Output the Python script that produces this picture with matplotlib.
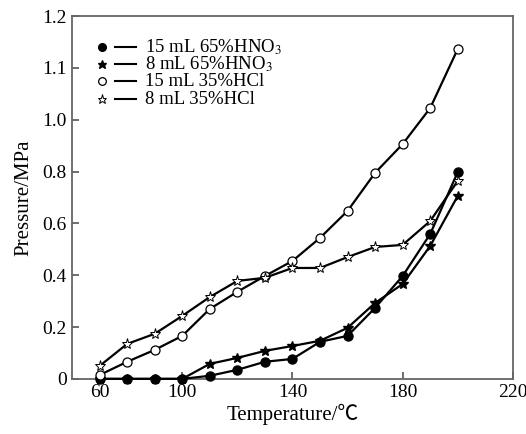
import matplotlib
matplotlib.use("Agg")
import matplotlib.pyplot as plt
from matplotlib.lines import Line2D

plt.rcParams['font.family'] = ['Liberation Serif', 'Noto Sans CJK SC', 'DejaVu Sans']
plt.rcParams['mathtext.fontset'] = 'stix'

# Data (x positions as drawn; y in axis-position units)
temps = [70, 80, 90, 100, 110, 120, 130, 140, 150, 160, 170, 180, 190, 200]
hno3_15 = [0.0, 0.0, 0.0, 0.0, 0.012, 0.035, 0.066, 0.077, 0.143, 0.166, 0.274, 0.397, 0.559, 0.798]
hno3_8 = [0.0, 0.0, 0.0, 0.0, 0.058, 0.081, 0.108, 0.127, 0.147, 0.197, 0.293, 0.366, 0.513, 0.706]
hcl_15 = [0.015, 0.066, 0.112, 0.166, 0.27, 0.336, 0.397, 0.455, 0.544, 0.648, 0.795, 0.906, 1.045, 1.273]
hcl_8 = [0.05, 0.135, 0.174, 0.243, 0.316, 0.378, 0.39, 0.428, 0.428, 0.47, 0.509, 0.517, 0.609, 0.764]

labels = ['15 mL 65%HNO$_3$', '8 mL 65%HNO$_3$', '15 mL 35%HCl', '8 mL 35%HCl']

xtick_pos = [70, 100, 140, 180, 220]
xtick_lab = ['60', '100', '140', '180', '220']
ytick_pos = [0, 0.2, 0.4, 0.6, 0.8, 1.0, 1.2, 1.4]
ytick_lab = ['0', '0.2', '0.4', '0.6', '0.8', '1.0', '1.1', '1.2']

fig = plt.figure(figsize=(5.26, 4.34), dpi=100)
ax = fig.add_axes([0.137, 0.127, 0.838, 0.836])

styles = [
    dict(marker='o', mfc='black', mec='black', ms=6.5),
    dict(marker='*', mfc='black', mec='black', ms=7.5),
    dict(marker='o', mfc='white', mec='black', ms=6.5, mew=0.9),
    dict(marker='*', mfc='white', mec='black', ms=8, mew=0.7),
]
series = [hno3_15, hno3_8, hcl_15, hcl_8]
for ys, st in zip(series, styles):
    ax.plot(temps, ys, color='black', lw=1.6, clip_on=False, zorder=3, **st)

ax.set_xlim(60, 220)
ax.set_ylim(0, 1.4)
ax.set_xticks(xtick_pos)
ax.set_xticklabels(xtick_lab)
ax.set_yticks(ytick_pos)
ax.set_yticklabels(ytick_lab)
ax.tick_params(direction='in', length=5, width=1.2, labelsize=14, color='#555555', pad=4)
for s in ax.spines.values():
    s.set_color('#666666')
    s.set_linewidth(1.3)

ax.set_xlabel('Temperature/℃', fontsize=15, labelpad=2)
ax.set_ylabel('Pressure/MPa', fontsize=15, labelpad=6)

# Legend drawn manually: marker, short line, label
leg_x_marker = 0.068
leg_x_line0 = 0.098
leg_x_line1 = 0.146
leg_x_text = 0.166
leg_y = [0.915, 0.868, 0.820, 0.771]
for st, lab, yy in zip(styles, labels, leg_y):
    ax.add_line(Line2D([leg_x_marker], [yy], transform=ax.transAxes, linestyle='none',
                       marker=st['marker'], mfc=st['mfc'], mec=st['mec'],
                       ms=st['ms'] * 0.85, mew=st.get('mew', 1.0)))
    ax.add_line(Line2D([leg_x_line0, leg_x_line1], [yy, yy], transform=ax.transAxes,
                       color='black', lw=1.5))
    ax.text(leg_x_text, yy, lab, transform=ax.transAxes, fontsize=13.5, va='center', ha='left')

fig.savefig('out.png', dpi=100)
